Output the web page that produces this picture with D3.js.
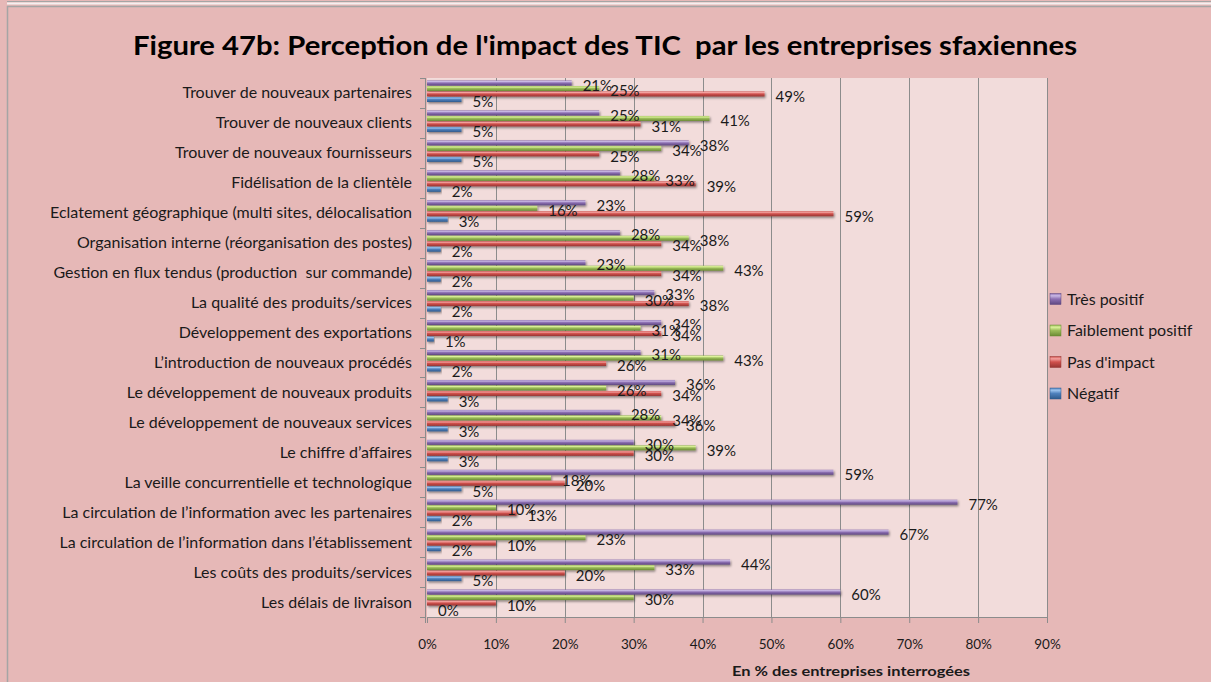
<!DOCTYPE html>
<html>
<head>
<meta charset="utf-8">
<script src="https://cdn.jsdelivr.net/npm/d3@7"></script>
<style>
  html, body { margin: 0; padding: 0; background: #e6b8b7; }
  svg { display: block; }
  text { font-family: Lato, "Open Sans", sans-serif; fill: #1a1a1a; white-space: pre; }
</style>
</head>
<body>
<script>
// Perception de l'impact des TIC — one group of four bars per item
const categories = [
  "Trouver de nouveaux partenaires",
  "Trouver de nouveaux clients",
  "Trouver de nouveaux fournisseurs",
  "Fidélisation de la clientèle",
  "Eclatement géographique (multi sites, délocalisation",
  "Organisation interne (réorganisation des postes)",
  "Gestion en flux tendus (production  sur commande)",
  "La qualité des produits/services",
  "Développement des exportations",
  "L\u2019introduction de nouveaux procédés",
  "Le développement de nouveaux produits",
  "Le développement de nouveaux services",
  "Le chiffre d\u2019affaires",
  "La veille concurrentielle et technologique",
  "La circulation de l\u2019information avec les partenaires",
  "La circulation de l\u2019information dans l\u2019établissement",
  "Les coûts des produits/services",
  "Les délais de livraison"
];

const tresPositif       = [21, 25, 38, 28, 23, 28, 23, 33, 34, 31, 36, 28, 30, 59, 77, 67, 44, 60];
const faiblementPositif = [25, 41, 34, 33, 16, 38, 43, 30, 31, 43, 26, 34, 39, 18, 10, 23, 33, 30];
const pasImpact         = [49, 31, 25, 39, 59, 34, 34, 38, 34, 26, 34, 36, 30, 20, 13, 10, 20, 10];
const negatif           = [ 5,  5,  5,  2,  3,  2,  2,  2,  1,  2,  3,  3,  3,  5,  2,  2,  5,  0];

const seriesNames = ["Très positif", "Faiblement positif", "Pas d'impact", "Négatif"];
const xTicks = [0, 10, 20, 30, 40, 50, 60, 70, 80, 90];

const titleText = "Figure 47b: Perception de l'impact des TIC  par les entreprises sfaxiennes";
const xAxisTitle = "En % des entreprises interrogées";

const series = [
  { name: seriesNames[0], values: tresPositif,       light: "#c9b8e4", base: "#8d70b3", dark: "#5e4780" },
  { name: seriesNames[1], values: faiblementPositif, light: "#dcf29a", base: "#9bbb59", dark: "#6a8a33" },
  { name: seriesNames[2], values: pasImpact,         light: "#f3a19e", base: "#d0504c", dark: "#963532" },
  { name: seriesNames[3], values: negatif,           light: "#9cc3ee", base: "#4f81bd", dark: "#2f5a8c" }
];

const W = 1211, H = 682;
const plot = { left: 427, right: 1047, top: 78, bottom: 617 };

const svg = d3.select("body").append("svg").attr("width", W).attr("height", H);
const defs = svg.append("defs");

series.forEach((s, i) => {
  const g = defs.append("linearGradient").attr("id", "grad" + i)
    .attr("x1", 0).attr("y1", 0).attr("x2", 0).attr("y2", 1);
  g.append("stop").attr("offset", "0%").attr("stop-color", s.base);
  g.append("stop").attr("offset", "20%").attr("stop-color", s.light);
  g.append("stop").attr("offset", "50%").attr("stop-color", s.base);
  g.append("stop").attr("offset", "100%").attr("stop-color", s.dark);
});

const shadow = defs.append("filter").attr("id", "barShadow")
  .attr("x", "-5%").attr("y", "-50%").attr("width", "110%").attr("height", "250%");
shadow.append("feDropShadow").attr("dx", 1).attr("dy", 1.5)
  .attr("stdDeviation", 0.9).attr("flood-color", "#000").attr("flood-opacity", 0.45);

// chart frame
svg.append("rect").attr("x", 0).attr("y", 0).attr("width", W).attr("height", H).attr("fill", "#e6b8b7");
svg.append("line").attr("x1", 7).attr("x2", W).attr("y1", 1.5).attr("y2", 1.5)
  .attr("stroke", "#a5a5a5").attr("stroke-width", 1);
svg.append("line").attr("x1", 7).attr("x2", W).attr("y1", 3.5).attr("y2", 3.5)
  .attr("stroke", "#f4f0f0").attr("stroke-width", 2);
svg.append("rect").attr("x", 7.5).attr("y", 6.5).attr("width", W).attr("height", H)
  .attr("fill", "#e6b8b7").attr("stroke", "#a5a5a5").attr("stroke-width", 1.5);

// title
svg.append("text").attr("x", 605).attr("y", 55).attr("text-anchor", "middle")
  .attr("font-size", 27).attr("font-weight", 700)
  .attr("textLength", 944).attr("lengthAdjust", "spacingAndGlyphs")
  .style("font-family", "Lato, sans-serif").style("fill", "#000")
  .text(titleText);

// scales
const x = d3.scaleLinear().domain([0, 90]).range([plot.left, plot.right]);
const y = d3.scaleBand().domain(categories).range([plot.top, plot.bottom]).padding(0);
const ySeries = d3.scaleBand().domain(d3.range(series.length))
  .range([2.5, 24.5]).padding(0);

// plot area
svg.append("rect").attr("x", plot.left).attr("y", plot.top)
  .attr("width", plot.right - plot.left).attr("height", plot.bottom - plot.top)
  .attr("fill", "#f2dcdb");

// vertical gridlines
svg.append("g").selectAll("line").data(xTicks.slice(1)).join("line")
  .attr("x1", d => Math.round(x(d)) + 0.5).attr("x2", d => Math.round(x(d)) + 0.5)
  .attr("y1", plot.top).attr("y2", plot.bottom)
  .attr("stroke", "#8c8c8c").attr("stroke-width", 1);

// x axis
const xAxis = svg.append("g").attr("transform", `translate(0,${plot.bottom})`)
  .call(d3.axisBottom(x).tickValues(xTicks).tickFormat(d => d + "%").tickSize(6).tickPadding(16));
xAxis.select(".domain").attr("stroke", "#8c8c8c");
xAxis.selectAll(".tick line").attr("stroke", "#8c8c8c");
xAxis.selectAll(".tick text").attr("font-size", 13.5).style("font-family", "Lato, sans-serif").style("fill", "#1a1a1a");

// y axis: ticks on the category boundaries, labels centred on each band
const yAxisG = svg.append("g").attr("transform", `translate(${plot.left - 2},0)`);
yAxisG.append("line").attr("x1", 0.5).attr("x2", 0.5)
  .attr("y1", plot.top).attr("y2", plot.bottom + 6).attr("stroke", "#8c8c8c");
const boundaries = categories.map(c => y(c)).concat([plot.bottom]);
yAxisG.selectAll("line.tk").data(boundaries).join("line").attr("class", "tk")
  .attr("x1", -5).attr("x2", 0.5)
  .attr("y1", d => Math.round(d) + 0.5).attr("y2", d => Math.round(d) + 0.5)
  .attr("stroke", "#8c8c8c");
svg.append("g").selectAll("text").data(categories).join("text")
  .attr("x", 412).attr("y", d => y(d) + y.bandwidth() / 2 + 5.5)
  .attr("text-anchor", "end").attr("font-size", 16)
  .text(d => d);

// bars and value labels
series.forEach((s, si) => {
  const g = svg.append("g");
  g.selectAll("rect").data(s.values).join("rect")
    .attr("x", plot.left)
    .attr("y", (d, i) => y(categories[i]) + ySeries(si))
    .attr("width", d => x(d) - x(0))
    .attr("height", ySeries.bandwidth() - 0.5)
    .attr("fill", `url(#grad${si})`)
    .attr("filter", "url(#barShadow)");
});
series.forEach((s, si) => {
  svg.append("g").selectAll("text").data(s.values).join("text")
    .attr("x", d => x(d) + 11)
    .attr("y", (d, i) => y(categories[i]) + ySeries(si) + ySeries.bandwidth() / 2 + 7.5)
    .attr("font-size", 15)
    .text(d => d + "%");
});

// x-axis title
svg.append("text").attr("x", 851).attr("y", 676).attr("text-anchor", "middle")
  .attr("font-size", 14).attr("font-weight", 700)
  .attr("textLength", 238).attr("lengthAdjust", "spacingAndGlyphs")
  .text(xAxisTitle);

// legend
const legend = svg.append("g").attr("transform", "translate(1050,299)");
const li = legend.selectAll("g").data(series).join("g")
  .attr("transform", (d, i) => `translate(0,${i * 31.5})`);
li.append("rect").attr("x", 0).attr("y", -5.5).attr("width", 11).attr("height", 11)
  .attr("fill", (d, i) => `url(#grad${i})`)
  .attr("stroke", (d) => d.dark).attr("stroke-width", 0.5);
li.append("text").attr("x", 17).attr("y", 5.5).attr("font-size", 16).text(d => d.name);
</script>
</body>
</html>
